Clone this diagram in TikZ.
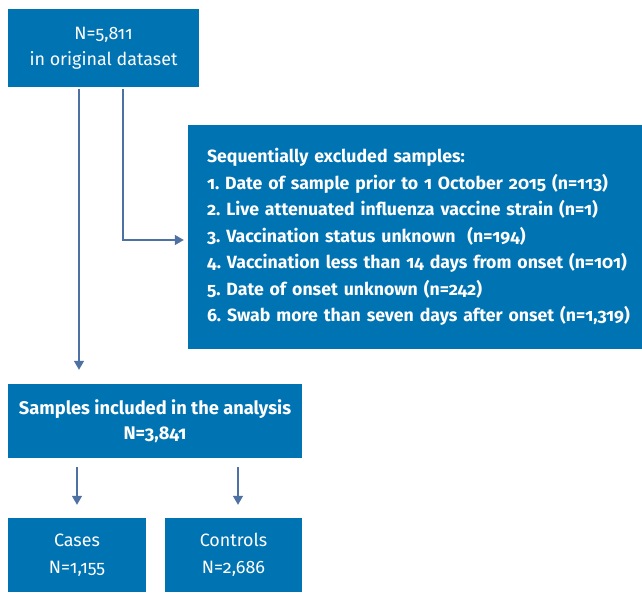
\documentclass[tikz,border=0pt]{standalone}
\usepackage{fontspec}
\setmainfont[Numbers={OldStyle,Proportional}]{Fira Sans}
\usetikzlibrary{arrows.meta}
\definecolor{boxblue}{RGB}{0,115,178}
\definecolor{arrowblue}{RGB}{78,113,163}
\frenchspacing
\begin{document}
\begin{tikzpicture}[x=1pt,y=1pt,
  box/.style={fill=boxblue,text=white,inner sep=0pt,align=center,
    font=\fontsize{17.9}{26.5}\selectfont},
  arr/.style={draw=arrowblue,line width=1.3pt,-{Triangle[length=9pt,width=10pt]}}]
\useasboundingbox (0,0) rectangle (642,-592);
\node[box,minimum width=454,minimum height=224,text width=416,align=left,
  font=\fontsize{17.7}{26.5}\selectfont\bfseries\frenchspacing] (excl) at (415,-237)
  {\mbox{Sequentially excluded samples:}\\
   \mbox{1. Date of sample prior to 1 October 2015 (n=113)}\\
   \mbox{2. Live attenuated influenza vaccine strain (n=1)}\\
   \mbox{3. Vaccination status unknown~~(n=194)}\\
   \mbox{4. Vaccination less than 14 days from onset (n=101)}\\
   \mbox{5. Date of onset unknown (n=242)}\\
   \mbox{6. Swab more than seven days after onset (n=1,319)}};
\node[box,minimum width=191,minimum height=78] (top) at (103.5,-48)
  {N=5,811\\in original dataset};
\node[box,minimum width=294,minimum height=74,font=\fontsize{18.3}{25}\selectfont\bfseries] (samples) at (155,-421)
  {Samples included in the analysis\\N=3,841\hspace{29pt}};
\node[box,minimum width=138,minimum height=74] (cases) at (77,-555)
  {Cases\\N=1,155};
\node[box,minimum width=137,minimum height=74] (controls) at (233.5,-555)
  {Controls\\N=2,686};
\draw[arr,shorten <=2pt,shorten >=14pt] (79,0 |- top.south) -- (79,0 |- samples.north);
\draw[arr,shorten <=2pt,shorten >=4pt] (123,0 |- top.south) |- (excl.west |- 0,-240);
\draw[arr,shorten <=9pt,shorten >=13pt] (77,0 |- samples.south) -- (cases.north -| 77,0);
\draw[arr,shorten <=9pt,shorten >=13pt] (238,0 |- samples.south) -- (controls.north -| 238,0);
\end{tikzpicture}
\end{document}
